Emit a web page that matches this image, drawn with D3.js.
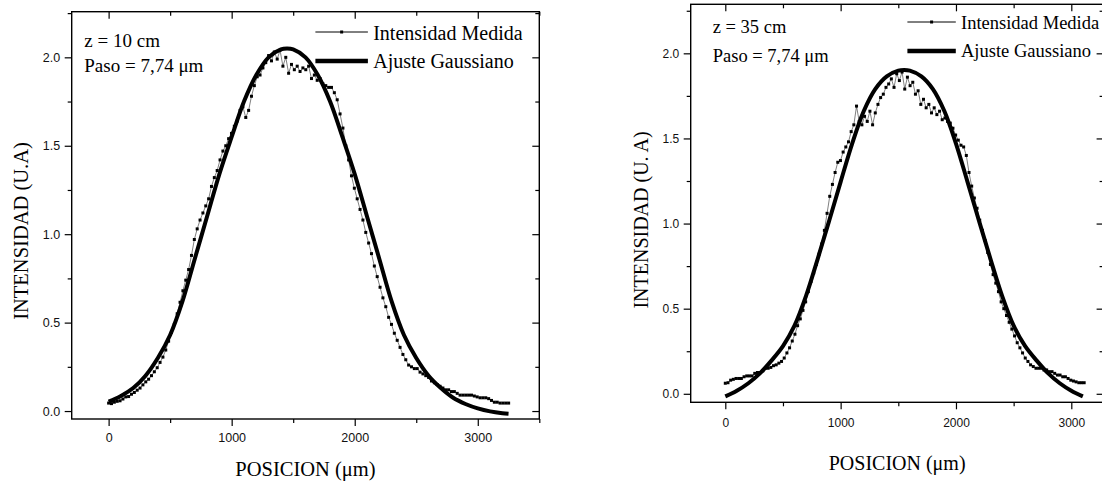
<!DOCTYPE html>
<html>
<head>
<meta charset="utf-8">
<script src="https://cdn.jsdelivr.net/npm/d3@7"></script>
<style>
  body { margin: 0; background: #fff; }
  svg { display: block; }
</style>
</head>
<body>
<div id="chart"></div>
<script>
// Paso de muestreo (um); se dibuja uno de cada 3 puntos medidos
var paso = 7.74;
var cadaN = 3;

// z = 10 cm : intensidad medida (U.A)
var medida10 = [
  0.045,0.042,0.050,0.055,0.058,0.068,0.080,0.082,0.095,0.105,
  0.118,0.130,0.148,0.165,0.180,0.200,0.222,0.245,0.275,0.305,
  0.345,0.395,0.445,0.490,0.550,0.615,0.680,0.740,0.800,0.880,
  0.970,1.030,1.080,1.120,1.160,1.200,1.270,1.320,1.360,1.420,
  1.470,1.500,1.540,1.570,1.610,1.640,1.700,1.720,1.660,1.700,
  1.780,1.840,1.890,1.900,1.940,1.970,2.010,1.980,2.030,1.990,
  2.040,1.950,2.000,1.910,1.960,1.930,1.950,1.920,1.940,1.930,
  1.950,1.880,1.900,1.870,1.880,1.850,1.840,1.830,1.830,1.800,
  1.760,1.680,1.600,1.500,1.420,1.330,1.260,1.200,1.140,1.080,
  1.010,0.950,0.890,0.820,0.760,0.700,0.640,0.590,0.530,0.490,
  0.440,0.400,0.360,0.320,0.290,0.260,0.250,0.240,0.240,0.220,
  0.210,0.200,0.190,0.170,0.160,0.150,0.140,0.130,0.120,0.120,
  0.110,0.110,0.100,0.090,0.090,0.090,0.090,0.090,0.085,0.080,
  0.075,0.075,0.075,0.070,0.060,0.050,0.050,0.045,0.045,0.045,
  0.045
];
// z = 10 cm : ajuste gaussiano
var ajusteX10 = [0,100,200,300,400,500,600,700,800,900,1000,1100,1200,1300,1400,1450,
  1500,1600,1700,1800,1900,2000,2100,2200,2300,2400,2500,2600,2700,2800,2900,3000,3100,3200,3250];
var ajusteY10 = [0.053,0.085,0.13,0.20,0.30,0.43,0.62,0.86,1.10,1.34,1.55,1.75,1.90,2.00,2.045,2.05,
  2.045,2.00,1.90,1.75,1.55,1.34,1.10,0.86,0.62,0.43,0.30,0.20,0.13,0.075,0.04,0.015,-0.002,-0.012,-0.015];

// z = 35 cm : intensidad medida (U.A)
var medida35 = [
  0.062,0.065,0.080,0.085,0.090,0.090,0.090,0.100,0.105,0.105,
  0.105,0.120,0.125,0.125,0.135,0.150,0.150,0.155,0.165,0.170,
  0.180,0.190,0.210,0.240,0.270,0.310,0.350,0.400,0.440,0.490,
  0.540,0.600,0.660,0.710,0.760,0.820,0.880,0.960,1.060,1.160,
  1.230,1.300,1.360,1.370,1.420,1.450,1.480,1.540,1.580,1.690,
  1.600,1.580,1.630,1.600,1.660,1.580,1.650,1.700,1.740,1.760,
  1.800,1.820,1.850,1.800,1.880,1.840,1.890,1.790,1.860,1.810,
  1.830,1.760,1.780,1.700,1.730,1.680,1.700,1.650,1.680,1.640,
  1.660,1.610,1.620,1.600,1.590,1.560,1.520,1.490,1.460,1.450,
  1.400,1.300,1.220,1.150,1.090,1.020,0.960,0.900,0.830,0.760,
  0.700,0.650,0.600,0.540,0.500,0.460,0.420,0.380,0.340,0.300,
  0.270,0.240,0.210,0.190,0.170,0.160,0.150,0.150,0.150,0.140,
  0.140,0.130,0.130,0.120,0.110,0.110,0.100,0.100,0.090,0.080,
  0.075,0.070,0.065,0.065,0.065
];
// z = 35 cm : ajuste gaussiano
var ajusteX35 = [0,100,200,300,400,500,600,700,800,900,1000,1100,1200,1300,1400,1500,1550,
  1600,1700,1800,1900,2000,2100,2200,2300,2400,2500,2600,2700,2800,2900,3000,3100];
var ajusteY35 = [-0.015,0.018,0.062,0.12,0.195,0.28,0.40,0.575,0.79,1.015,1.245,1.47,1.66,1.79,1.865,1.898,1.902,
  1.898,1.865,1.79,1.66,1.47,1.245,1.015,0.79,0.575,0.40,0.28,0.195,0.12,0.062,0.018,-0.015];

var xTicks = [0, 1000, 2000, 3000];
var xMinor = [500, 1500, 2500, 3500];
var yTicks = [0, 0.5, 1.0, 1.5, 2.0];
var yMinor = [0.25, 0.75, 1.25, 1.75, 2.25];
var leyenda = ["Intensidad Medida", "Ajuste Gaussiano"];
var tituloX = "POSICION (\u03bcm)";

var serif = "'Liberation Serif','Times New Roman',serif";
var sans = "'Liberation Sans',Arial,sans-serif";

// geometria de cada panel (pixeles medidos sobre la imagen)
var paneles = [
  { medida: medida10, fitX: ajusteX10, fitY: ajusteY10,
    xDom: [-300, 3500], yDom: [-0.045, 2.258],
    left: 71.7, right: 539.3, top: 11.7, bottom: 419,
    tickFont: 12.5, xPad: 7, yPad: 4.5,
    textos: ["z = 10 cm", "Paso = 7,74 \u03bcm"], txtX: 84.3, txtY: [46.7, 71.7], txtFont: 19,
    leyX: [315.4, 367.9], leyTxt: 373.2, leyLinea: [32, 61], leyBase: [39.5, 68.3], leyFont: 20,
    tituloY: "INTENSIDAD (U.A)", tyX: 28, tyY: 231, tFont: 20.5, txBase: 476 },
  { medida: medida35, fitX: ajusteX35, fitY: ajusteY35,
    xDom: [-300, 3280], yDom: [-0.05, 2.288],
    left: 690.7, right: 1103.6, top: 4.3, bottom: 402.3,
    tickFont: 12, xPad: 9, yPad: 4.5,
    textos: ["z = 35 cm", "Paso = 7,74 \u03bcm"], txtX: 712.7, txtY: [33.3, 61.7], txtFont: 18.5,
    leyX: [907.4, 955.8], leyTxt: 961, leyLinea: [22, 51], leyBase: [28.8, 57.3], leyFont: 18.5,
    tituloY: "INTENSIDAD (U. A)", tyX: 648, tyY: 220, tFont: 20, txBase: 470 }
];

var svg = d3.select("#chart").append("svg")
  .attr("width", 1102)
  .attr("height", 481);

paneles.forEach(dibujarPanel);

function eje(g, axis, tx, ty, p) {
  var s = g.append("g")
    .attr("transform", `translate(${tx},${ty})`)
    .call(axis);
  s.select(".domain").remove();
  s.selectAll("line").attr("stroke", "#000").attr("stroke-width", 1.2);
  s.selectAll("text")
    .attr("font-family", sans)
    .attr("font-size", p.tickFont)
    .attr("fill", "#111");
  return s;
}

function dibujarPanel(p) {
  var x = d3.scaleLinear().domain(p.xDom).range([p.left, p.right]);
  var y = d3.scaleLinear().domain(p.yDom).range([p.bottom, p.top]);
  var g = svg.append("g");

  var xMaj = xTicks.filter(v => v <= p.xDom[1]);
  var xMin = xMinor.filter(v => v <= p.xDom[1]);
  var fmtY = d3.format(".1f");

  // ejes: abajo e izquierda hacia fuera, arriba y derecha hacia dentro
  eje(g, d3.axisBottom(x).tickValues(xMaj).tickSize(7).tickPadding(p.xPad).tickFormat(d3.format("d")), 0, p.bottom, p);
  eje(g, d3.axisBottom(x).tickValues(xMin).tickSize(4).tickFormat(""), 0, p.bottom, p);
  eje(g, d3.axisTop(x).tickValues(xMaj).tickSize(-7).tickFormat(""), 0, p.top, p);
  eje(g, d3.axisTop(x).tickValues(xMin).tickSize(-4).tickFormat(""), 0, p.top, p);
  eje(g, d3.axisLeft(y).tickValues(yTicks).tickSize(7).tickPadding(p.yPad).tickFormat(fmtY), p.left, 0, p);
  eje(g, d3.axisLeft(y).tickValues(yMinor).tickSize(4).tickFormat(""), p.left, 0, p);
  eje(g, d3.axisRight(y).tickValues(yTicks).tickSize(-7).tickFormat(""), p.right, 0, p);
  eje(g, d3.axisRight(y).tickValues(yMinor).tickSize(-4).tickFormat(""), p.right, 0, p);

  g.append("rect")
    .attr("x", p.left).attr("y", p.top)
    .attr("width", p.right - p.left).attr("height", p.bottom - p.top)
    .attr("fill", "none").attr("stroke", "#000").attr("stroke-width", 1.4);

  // datos medidos: linea fina + cuadraditos
  var puntos = p.medida.map((v, i) => [i * paso * cadaN, v]);
  var linea = d3.line().x(d => x(d[0])).y(d => y(d[1]));
  g.append("path")
    .attr("d", linea(puntos))
    .attr("fill", "none").attr("stroke", "#000").attr("stroke-width", 0.5);
  g.selectAll("rect.pt").data(puntos).enter().append("rect")
    .attr("class", "pt")
    .attr("x", d => x(d[0]) - 1.5).attr("y", d => y(d[1]) - 1.5)
    .attr("width", 3).attr("height", 3)
    .attr("fill", "#000");

  // ajuste gaussiano
  var ajuste = p.fitX.map((v, i) => [v, p.fitY[i]]);
  g.append("path")
    .attr("d", linea.curve(d3.curveCatmullRom)(ajuste))
    .attr("fill", "none").attr("stroke", "#000").attr("stroke-width", 4);

  // textos dentro del panel
  p.textos.forEach((t, i) => {
    g.append("text")
      .attr("x", p.txtX).attr("y", p.txtY[i])
      .attr("font-family", serif).attr("font-size", p.txtFont)
      .text(t);
  });

  // leyenda
  g.append("line")
    .attr("x1", p.leyX[0]).attr("x2", p.leyX[1])
    .attr("y1", p.leyLinea[0]).attr("y2", p.leyLinea[0])
    .attr("stroke", "#000").attr("stroke-width", 1);
  g.append("rect")
    .attr("x", (p.leyX[0] + p.leyX[1]) / 2 - 1.5).attr("y", p.leyLinea[0] - 1.5)
    .attr("width", 3).attr("height", 3).attr("fill", "#000");
  g.append("line")
    .attr("x1", p.leyX[0]).attr("x2", p.leyX[1])
    .attr("y1", p.leyLinea[1]).attr("y2", p.leyLinea[1])
    .attr("stroke", "#000").attr("stroke-width", 4.5);
  leyenda.forEach((t, i) => {
    g.append("text")
      .attr("x", p.leyTxt).attr("y", p.leyBase[i])
      .attr("font-family", serif).attr("font-size", p.leyFont)
      .text(t);
  });

  // titulos de ejes
  g.append("text")
    .attr("x", (p.left + p.right) / 2).attr("y", p.txBase)
    .attr("text-anchor", "middle")
    .attr("font-family", serif).attr("font-size", p.tFont)
    .text(tituloX);
  g.append("text")
    .attr("transform", `translate(${p.tyX},${p.tyY}) rotate(-90)`)
    .attr("text-anchor", "middle")
    .attr("font-family", serif).attr("font-size", p.tFont)
    .text(p.tituloY);
}
</script>
</body>
</html>
